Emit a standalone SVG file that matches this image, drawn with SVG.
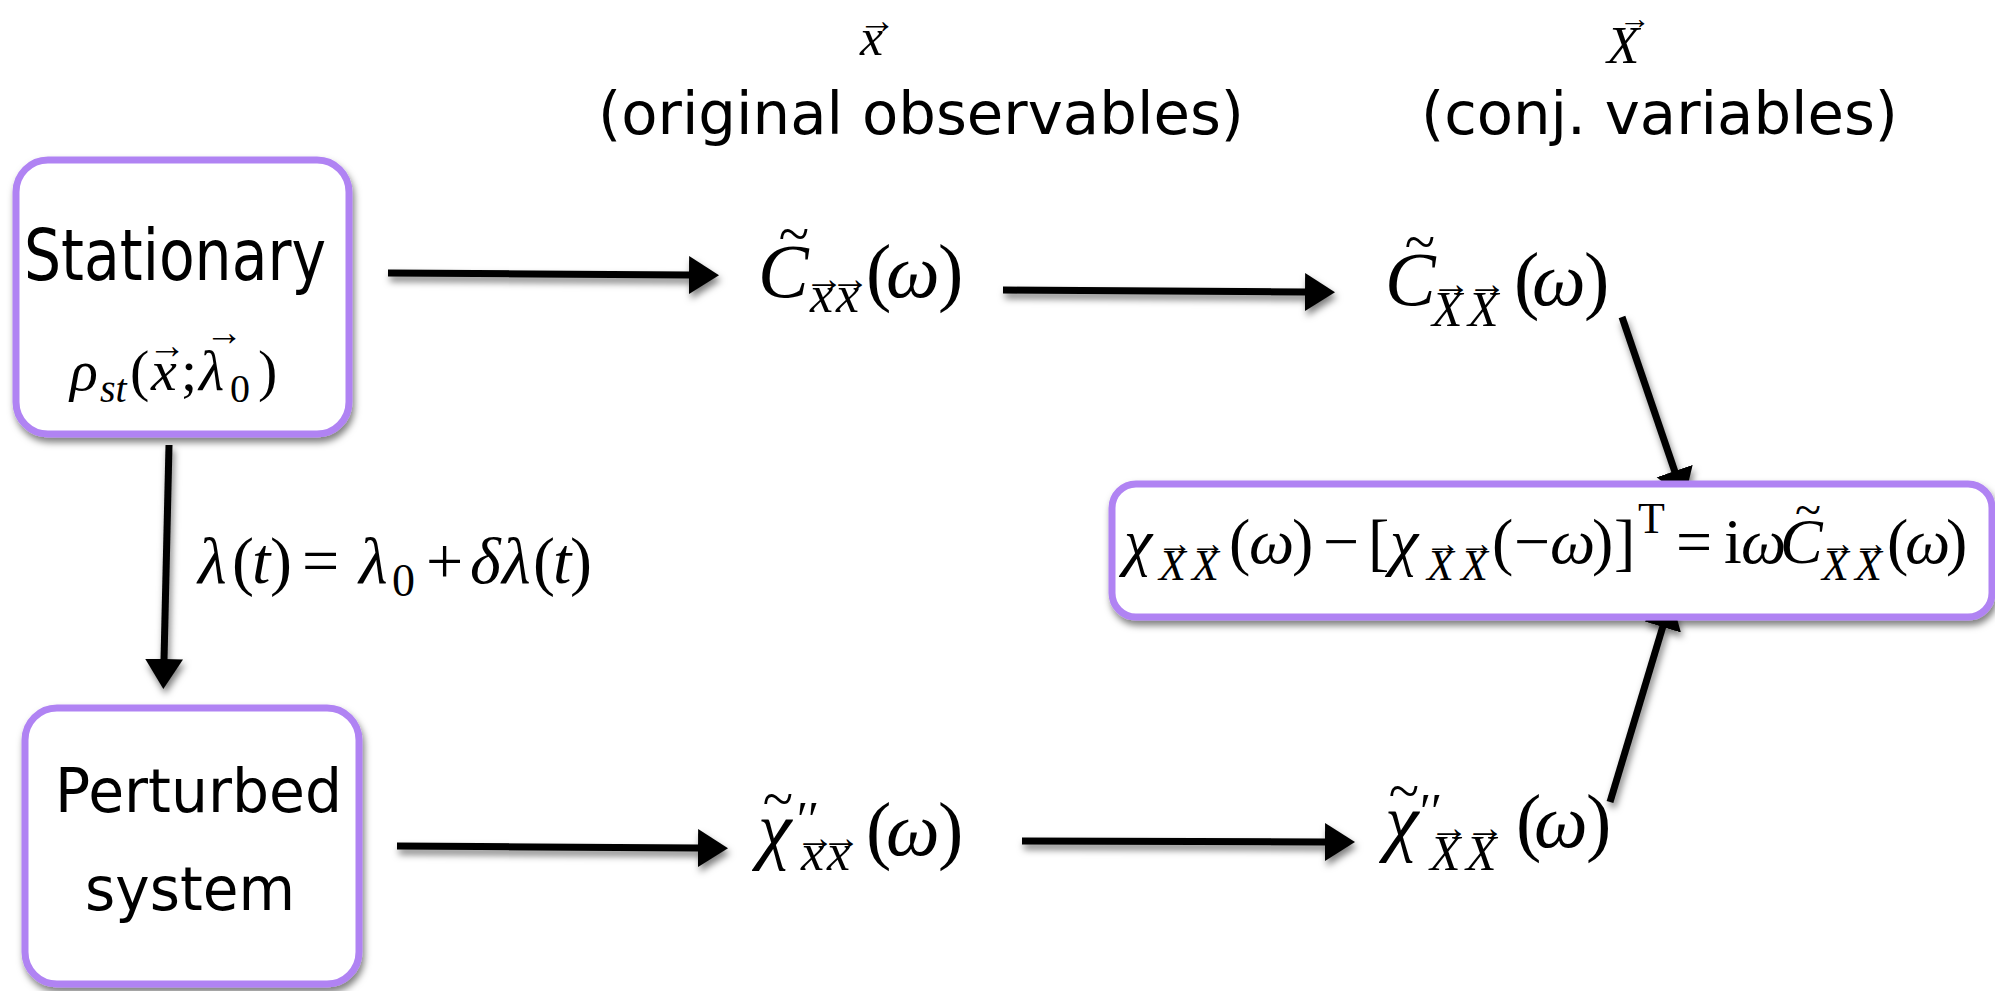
<svg xmlns="http://www.w3.org/2000/svg" width="1995" height="991" viewBox="0 0 1995 991">
<defs>
<style>
.m{font-family:"Liberation Serif","Times New Roman",serif;fill:#000}
.it{font-style:italic}
.s{font-family:"DejaVu Sans","Liberation Sans",sans-serif;fill:#000}
.box{fill:#fff;stroke:#b083f3;stroke-width:7}
.conn{stroke:#000;stroke-width:7;fill:none;marker-end:url(#ah)}
.acc{text-anchor:middle}
</style>
<filter id="sh" x="-20%" y="-20%" width="140%" height="140%">
<feDropShadow dx="2" dy="5" stdDeviation="3.5" flood-color="#000" flood-opacity="0.5"/>
</filter>
<marker id="ah" markerUnits="userSpaceOnUse" markerWidth="32" markerHeight="40" refX="1" refY="19" orient="auto">
<path d="M0,0 L30,19 L0,38 z" fill="#000"/>
</marker>
</defs>
<rect width="1995" height="991" fill="#fff"/>

<g id="header-x">
<text class="m it" font-size="52" x="860" y="55">x</text>
<text class="m acc" font-size="38" x="877" y="33">→</text>
<text class="s" font-size="59" x="598" y="134" textLength="646" lengthAdjust="spacingAndGlyphs">(original observables)</text>
</g>
<g id="header-X">
<text class="m it" font-size="53" x="1607" y="63">X</text>
<text class="m" font-size="31" x="1619" y="29" textLength="32" lengthAdjust="spacingAndGlyphs">→</text>
<text class="s" font-size="59" x="1421" y="134" textLength="477" lengthAdjust="spacingAndGlyphs">(conj. variables)</text>
</g>

<g id="connectors" filter="url(#sh)">
<line class="conn" x1="388" y1="273" x2="690" y2="275"/>
<line class="conn" x1="1003" y1="290" x2="1306" y2="292"/>
<line class="conn" x1="397" y1="846" x2="699" y2="848"/>
<line class="conn" x1="1022" y1="841" x2="1326" y2="842"/>
<line class="conn" x1="169" y1="445" x2="164" y2="660"/>
<line class="conn" x1="1622" y1="317" x2="1675" y2="472"/>
<line class="conn" x1="1610" y1="802" x2="1663" y2="626"/>
</g>

<g id="stationary">
<rect class="box" x="16" y="160" width="333" height="274" rx="32" filter="url(#sh)"/>
<text class="s" font-size="72" x="24" y="280" textLength="302" lengthAdjust="spacingAndGlyphs">Stationary</text>
<text class="m" font-size="58">
<tspan class="it" x="70" y="390">ρ</tspan><tspan class="it" font-size="40" x="100" y="402">st</tspan><tspan x="130" y="390">(</tspan><tspan class="it" x="151" y="390">x</tspan><tspan x="181" y="390">;</tspan><tspan class="it" x="199" y="390">λ</tspan><tspan font-size="40" x="230" y="402">0</tspan><tspan x="258" y="390">)</tspan>
</text>
<text class="m acc" font-size="38" x="167" y="358">→</text>
<text class="m acc" font-size="38" x="224" y="345">→</text>
</g>

<g id="perturbed">
<rect class="box" x="25" y="708" width="334" height="276" rx="32" filter="url(#sh)"/>
<text class="s" font-size="60" x="55" y="812" textLength="287" lengthAdjust="spacingAndGlyphs">Perturbed</text>
<text class="s" font-size="60" x="85" y="910" textLength="210" lengthAdjust="spacingAndGlyphs">system</text>
</g>

<g id="lambda-label">
<text class="m" font-size="66">
<tspan class="it" x="198" y="583">λ</tspan><tspan x="232" y="583">(</tspan><tspan class="it" x="252" y="583">t</tspan><tspan x="270" y="583">)</tspan><tspan x="302" y="583">=</tspan><tspan class="it" x="359" y="583">λ</tspan><tspan font-size="46" x="392" y="596">0</tspan><tspan x="426" y="583">+</tspan><tspan class="it" x="470" y="583">δ</tspan><tspan class="it" x="502" y="583">λ</tspan><tspan x="533" y="583">(</tspan><tspan class="it" x="553" y="583">t</tspan><tspan x="570" y="583">)</tspan>
</text>
</g>

<g id="C-xx">
<text class="m" font-size="76">
<tspan class="it" x="758" y="297">C</tspan><tspan class="it" font-size="52" x="810" y="312">x</tspan><tspan class="it" font-size="52" x="836" y="312">x</tspan><tspan x="866" y="297">(</tspan><tspan class="it" x="886" y="297">ω</tspan><tspan x="938" y="297">)</tspan>
</text>
<text class="m acc" font-size="56" x="794" y="253">~</text>
<text class="m acc" font-size="40" x="824" y="292">→</text>
<text class="m acc" font-size="40" x="850" y="292">→</text>
</g>

<g id="C-XX">
<text class="m" font-size="76">
<tspan class="it" x="1385" y="305">C</tspan><tspan class="it" font-size="50" x="1432" y="326">X</tspan><tspan class="it" font-size="50" x="1468" y="326">X</tspan><tspan x="1514" y="305">(</tspan><tspan class="it" x="1532" y="305">ω</tspan><tspan x="1584" y="305">)</tspan>
</text>
<text class="m acc" font-size="56" x="1420" y="261">~</text>
<text class="m acc" font-size="40" x="1451" y="297">→</text>
<text class="m acc" font-size="40" x="1487" y="297">→</text>
</g>

<g id="chi-xx">
<text class="m" font-size="76">
<tspan class="it" x="758" y="855">χ</tspan><tspan font-size="50" x="797" y="836">′′</tspan><tspan class="it" font-size="52" x="801" y="870">x</tspan><tspan class="it" font-size="52" x="827" y="870">x</tspan><tspan x="866" y="855">(</tspan><tspan class="it" x="886" y="855">ω</tspan><tspan x="938" y="855">)</tspan>
</text>
<text class="m acc" font-size="56" x="778" y="818">~</text>
<text class="m acc" font-size="40" x="815" y="851">→</text>
<text class="m acc" font-size="40" x="841" y="851">→</text>
</g>

<g id="chi-XX">
<text class="m" font-size="76">
<tspan class="it" x="1385" y="847">χ</tspan><tspan font-size="50" x="1420" y="828">′′</tspan><tspan class="it" font-size="50" x="1430" y="870">X</tspan><tspan class="it" font-size="50" x="1466" y="870">X</tspan><tspan x="1516" y="847">(</tspan><tspan class="it" x="1534" y="847">ω</tspan><tspan x="1586" y="847">)</tspan>
</text>
<text class="m acc" font-size="56" x="1404" y="810">~</text>
<text class="m acc" font-size="40" x="1449" y="841">→</text>
<text class="m acc" font-size="40" x="1485" y="841">→</text>
</g>

<g id="equation">
<rect class="box" x="1112" y="484" width="880" height="133" rx="24" filter="url(#sh)"/>
<text class="m" font-size="64">
<tspan class="it" x="1124" y="563">χ</tspan><tspan class="it" font-size="44" x="1159" y="580">X</tspan><tspan class="it" font-size="44" x="1192" y="580">X</tspan><tspan x="1229" y="563">(</tspan><tspan class="it" x="1249" y="563">ω</tspan><tspan x="1292" y="563">)</tspan><tspan x="1323" y="563">−</tspan><tspan x="1368" y="563">[</tspan><tspan class="it" x="1390" y="563">χ</tspan><tspan class="it" font-size="44" x="1427" y="580">X</tspan><tspan class="it" font-size="44" x="1461" y="580">X</tspan><tspan x="1492" y="563">(</tspan><tspan x="1514" y="563">−</tspan><tspan class="it" x="1550" y="563">ω</tspan><tspan x="1592" y="563">)</tspan><tspan x="1614" y="563">]</tspan><tspan font-size="44" x="1638" y="533">T</tspan><tspan x="1676" y="563">=</tspan><tspan x="1724" y="563">i</tspan><tspan class="it" x="1741" y="563">ω</tspan><tspan class="it" x="1780" y="563">C</tspan><tspan class="it" font-size="44" x="1822" y="580">X</tspan><tspan class="it" font-size="44" x="1855" y="580">X</tspan><tspan x="1887" y="563">(</tspan><tspan class="it" x="1905" y="563">ω</tspan><tspan x="1946" y="563">)</tspan>
</text>
<text class="m acc" font-size="48" x="1808" y="526">~</text>
<text class="m acc" font-size="36" x="1175" y="555">→</text>
<text class="m acc" font-size="36" x="1208" y="555">→</text>
<text class="m acc" font-size="36" x="1443" y="555">→</text>
<text class="m acc" font-size="36" x="1477" y="555">→</text>
<text class="m acc" font-size="36" x="1838" y="555">→</text>
<text class="m acc" font-size="36" x="1871" y="555">→</text>
</g>
</svg>
